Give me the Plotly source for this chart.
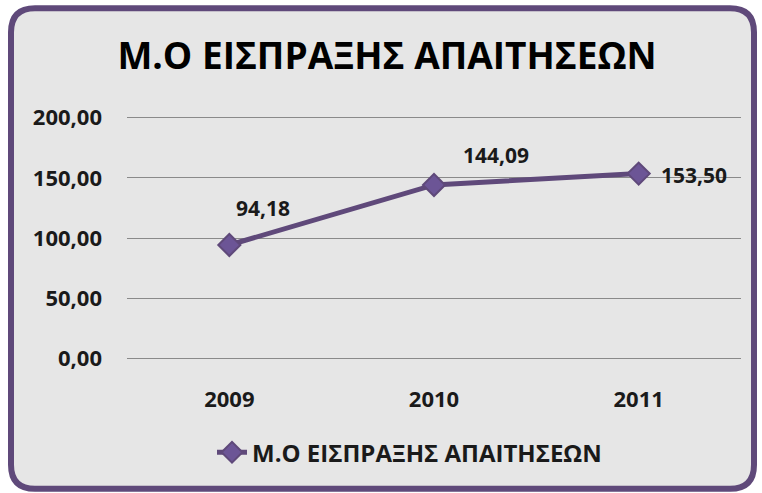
import plotly.graph_objects as go

years = ["2009", "2010", "2011"]
values = [94.18, 144.09, 153.50]
labels = ["94,18", "144,09", "153,50"]
series_name = "Μ.Ο ΕΙΣΠΡΑΞΗΣ ΑΠΑΙΤΗΣΕΩΝ"
title_text = "Μ.Ο ΕΙΣΠΡΑΞΗΣ ΑΠΑΙΤΗΣΕΩΝ"
y_ticks = [0, 50, 100, 150, 200]
y_tick_labels = ["0,00", "50,00", "100,00", "150,00", "200,00"]

W, H = 762, 493
Y0_PX, Y200_PX = 358, 118
ext = 3.0
scale = (Y0_PX - Y200_PX) / 200.0
L, R = 127, 21
T = Y200_PX - ext * scale
B = H - Y0_PX - ext * scale
pw, ph = W - L - R, H - T - B

def px(x):
    return (x - L) / pw

def py(y):
    return (H - B - y) / ph

purple = "#5f497a"
font = "Open Sans"
txt = "#1a1a1a"

fig = go.Figure()
fig.add_trace(go.Scatter(
    x=years, y=values, mode="lines+markers", name=f"<b>{series_name}</b>",
    line=dict(color=purple, width=5),
    marker=dict(symbol="diamond", size=17, color="#6c5596", line=dict(color=purple, width=2)),
))

# data labels (pixel offsets from point: dx, dy, anchor)
offsets = [(34, 37, "center"), (62, 30, "center"), (20, -1, "left")]
for i, (lab, (dx, dy, anc)) in enumerate(zip(labels, offsets)):
    fig.add_annotation(x=i, y=values[i], xref="x", yref="y", text=f"<b>{lab}</b>",
                       showarrow=False, xshift=dx, yshift=dy, xanchor=anc, yanchor="middle",
                       font=dict(family=font, size=21, color=txt))

# rounded border
x0, y0, x1, y1, r = 11, 9, 754, 488, 24
path = (f"M {px(x0+r)},{py(y0)} L {px(x1-r)},{py(y0)} "
        f"Q {px(x1)},{py(y0)} {px(x1)},{py(y0+r)} L {px(x1)},{py(y1-r)} "
        f"Q {px(x1)},{py(y1)} {px(x1-r)},{py(y1)} L {px(x0+r)},{py(y1)} "
        f"Q {px(x0)},{py(y1)} {px(x0)},{py(y1-r)} L {px(x0)},{py(y0+r)} "
        f"Q {px(x0)},{py(y0)} {px(x0+r)},{py(y0)} Z")
fig.add_shape(type="path", path=path, xref="paper", yref="paper",
              fillcolor="#e6e6e6", line=dict(color=purple, width=6), layer="below")

fig.update_layout(
    width=W, height=H,
    margin=dict(l=L, r=R, t=T, b=B),
    paper_bgcolor="white", plot_bgcolor="rgba(0,0,0,0)",
    title=dict(text=f"<b>{title_text}</b>", x=387 / W, xanchor="center", y=1 - 56 / H, yanchor="middle",
               font=dict(family=font, size=37, color="black")),
    xaxis=dict(type="category", range=[-0.5, 2.5], showgrid=False, zeroline=False, showline=False, ticks="",
               tickvals=years, ticktext=[f"<b>{y}</b>" for y in years],
               tickfont=dict(family=font, size=22, color=txt), ticklabelstandoff=22),
    yaxis=dict(range=[-ext, 200 + ext], tickvals=y_ticks,
               ticktext=[f"<b>{t}</b>" for t in y_tick_labels], showgrid=True,
               gridcolor="#8a8a8a", gridwidth=1, zeroline=False, showline=False,
               tickfont=dict(family=font, size=22, color=txt), ticklabelstandoff=24),
    showlegend=True,
    legend=dict(orientation="h", x=px(212), xanchor="left", y=py(452), yanchor="middle",
                font=dict(family=font, size=24, color=txt), bgcolor="rgba(0,0,0,0)"),
)

fig.write_html("out.html")
